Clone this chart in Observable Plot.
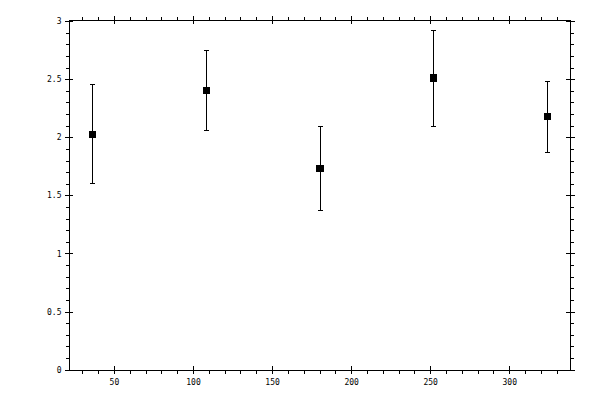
<!DOCTYPE html>
<html>
<head>
<meta charset="utf-8">
<script src="https://cdn.jsdelivr.net/npm/d3@7"></script>
<script src="https://cdn.jsdelivr.net/npm/@observablehq/plot@0.6"></script>
<style>
  body { margin: 0; background: #fff; }
  #chart svg { display: block; }
  #chart svg line, #chart svg path, #chart svg rect { shape-rendering: crispEdges; }
</style>
</head>
<body>
<div id="chart"></div>
<script>
const xs = [36, 108, 180, 252, 324];
const means = [2.03, 2.41, 1.74, 2.515, 2.18];
const lows = [1.61, 2.06, 1.377, 2.10, 1.87];
const highs = [2.455, 2.755, 2.095, 2.925, 2.485];

const xMajor = [50, 100, 150, 200, 250, 300];
const xMinor = d3.range(30, 331, 10).filter(v => v % 50 !== 0);
const yMajor = [0, 0.5, 1, 1.5, 2, 2.5, 3];
const yMinor = d3.range(0, 31).map(v => v / 10).filter(v => Math.round(v * 10) % 5 !== 0);
const yLabels = ["0", "0.5", "1", "1.5", "2", "2.5", "3"];

const data = xs.map((x, i) => ({x, m: means[i], lo: lows[i], hi: highs[i]}));

const W = 600, H = 400;
const mL = 69, mR = 30, mT = 20, mB = 30;
const pw = W - mL - mR, ph = H - mT - mB;

const cap = {
  draw(ctx) { ctx.moveTo(-2.5, 0); ctx.lineTo(2.5, 0); }
};

const chart = Plot.plot({
  width: W,
  height: H,
  marginLeft: mL,
  marginRight: mR,
  marginTop: mT,
  marginBottom: mB,
  style: {fontFamily: "'DejaVu Sans Mono', monospace", fontSize: "8px", color: "#000", background: "#fff"},
  x: {domain: [21.6, 338.4]},
  y: {domain: [-0.003, 3.01]},
  marks: [
    Plot.frame({stroke: "#000"}),
    // bottom axis
    Plot.axisX(xMinor, {anchor: "bottom", tickSize: 4, text: null, label: null, stroke: "#000"}),
    Plot.axisX(xMajor, {anchor: "bottom", tickSize: 4, tickPadding: 5, label: null, stroke: "#000", fill: "#000"}),
    Plot.tickX(xMajor, {x: d => d, insetTop: ph - 4, stroke: "#000"}),
    // top axis
    Plot.axisX(xMinor, {anchor: "top", tickSize: 4, text: null, label: null, stroke: "#000"}),
    Plot.axisX(xMajor, {anchor: "top", tickSize: 5, text: null, label: null, stroke: "#000"}),
    Plot.tickX(xMajor, {x: d => d, insetBottom: ph - 4, stroke: "#000"}),
    // left axis
    Plot.axisY(yMinor, {anchor: "left", tickSize: 3, text: null, label: null, stroke: "#000"}),
    Plot.axisY(yMajor, {anchor: "left", tickSize: 4, tickPadding: 4, label: null, stroke: "#000", fill: "#000",
      tickFormat: d => yLabels[yMajor.indexOf(d)]}),
    Plot.tickY(yMajor, {y: d => d, insetRight: pw - 4, stroke: "#000"}),
    // right axis
    Plot.axisY(yMinor, {anchor: "right", tickSize: 3, text: null, label: null, stroke: "#000"}),
    Plot.axisY(yMajor, {anchor: "right", tickSize: 4, text: null, label: null, stroke: "#000"}),
    Plot.tickY(yMajor, {y: d => d, insetLeft: pw - 4, stroke: "#000"}),
    // error bars
    Plot.ruleX(data, {x: "x", y1: "lo", y2: "hi", stroke: "#000", strokeWidth: 1}),
    Plot.dot(data, {x: "x", y: "lo", symbol: cap, r: 3, stroke: "#000", fill: "none", strokeWidth: 1}),
    Plot.dot(data, {x: "x", y: "hi", symbol: cap, r: 3, stroke: "#000", fill: "none", strokeWidth: 1}),
    Plot.dot(data, {x: "x", y: "m", symbol: "square", r: 3.95, fill: "#000", stroke: "none"})
  ]
});

document.getElementById("chart").appendChild(chart);
</script>
</body>
</html>
